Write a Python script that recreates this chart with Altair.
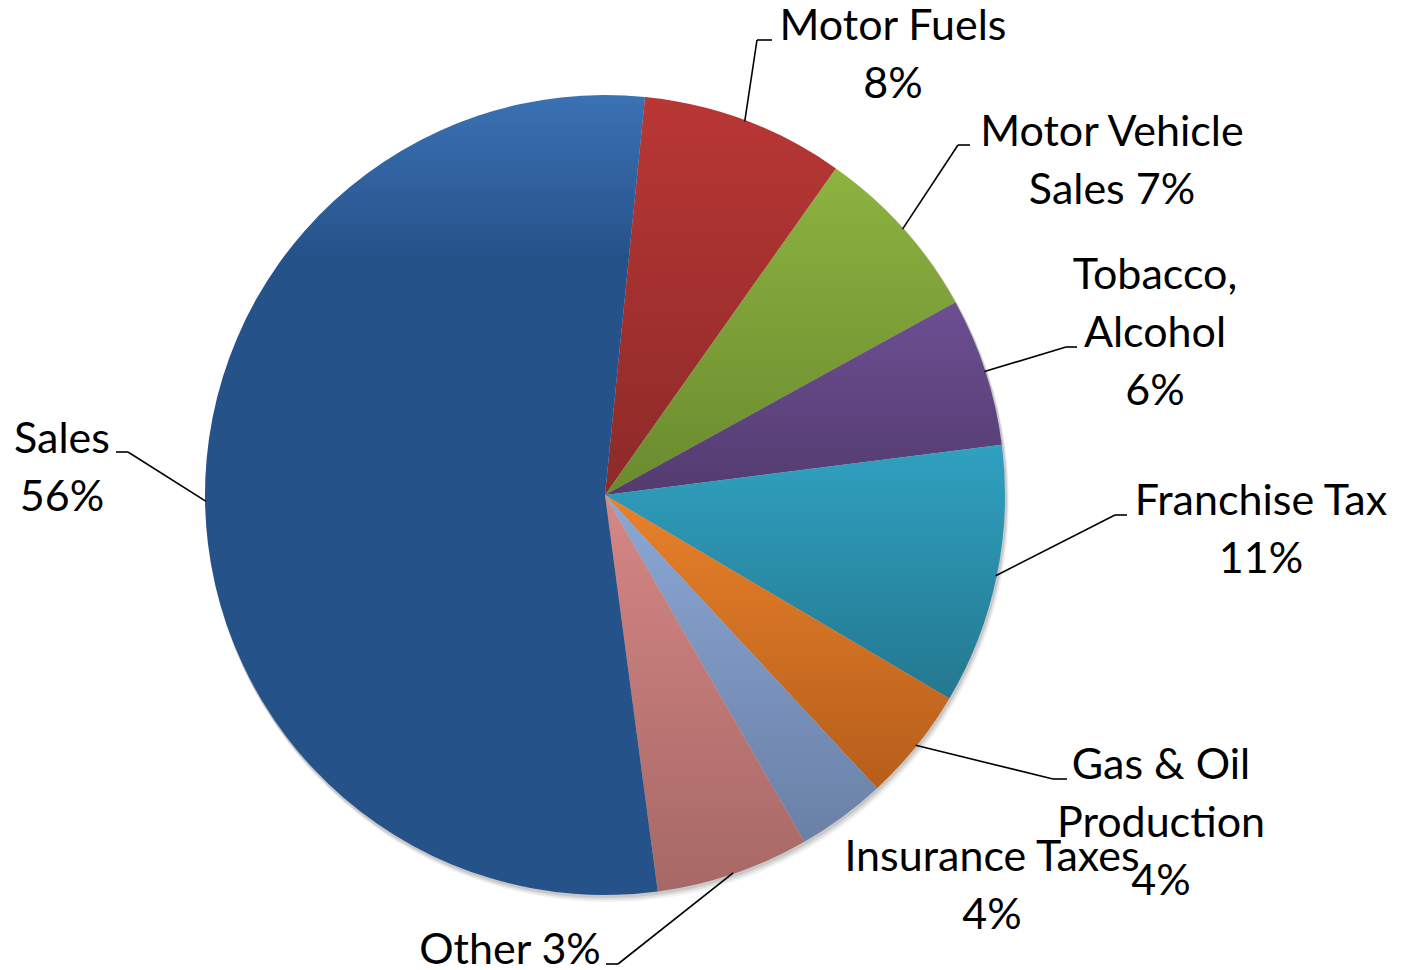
import json
import math
import altair as alt
import pandas as pd

# ---------------- data ----------------
categories = ["Motor Fuels", "Motor Vehicle Sales", "Tobacco, Alcohol", "Franchise Tax",
              "Gas & Oil Production", "Insurance Taxes", "Other", "Sales"]
values = [8.2, 7.2, 6.0, 10.5, 4.6, 3.6, 6.2, 53.7]
label_texts = ["Motor Fuels\n8%", "Motor Vehicle\nSales 7%", "Tobacco,\nAlcohol\n6%",
               "Franchise Tax\n11%", "Gas & Oil\nProduction\n4%", "Insurance Taxes\n4%",
               "Other 3%", "Sales\n56%"]
top_colors = ["#B93735", "#8DB340", "#6D4F92", "#30A1C1", "#E8812A", "#8BA8D6", "#D68785", "#3B72B4"]
bottom_colors = ["#8C2A28", "#6A8A2F", "#533B6F", "#23788F", "#B65E1B", "#6A80A6", "#A66866", "#26528A"]

# ---------------- layout ----------------
W, H = 1393, 962
CX, CY, R = 597, 487, 400
START = math.radians(5.74)
FONT = "Lato"
FS = 43
LH = 58
# label anchor (centre x, first baseline y), chart pixels
label_xy = {
    "Motor Fuels": (885, 32),
    "Motor Vehicle Sales": (1104, 138),
    "Tobacco, Alcohol": (1147, 281),
    "Franchise Tax": (1253, 507),
    "Gas & Oil Production": (1153, 771),
    "Insurance Taxes": (984, 863),
    "Other": (502, 956),
    "Sales": (54, 445),
}
# leader elbow (x, y) and end of short horizontal tick
leader = {
    "Motor Fuels": (749, 32, 764),
    "Motor Vehicle Sales": (950, 137, 962),
    "Tobacco, Alcohol": (1058, 339, 1069),
    "Franchise Tax": (1107, 507, 1119),
    "Gas & Oil Production": (1045, 771, 1059),
    "Other": (610, 956, 598),
    "Sales": (120, 444, 108),
}

idx = list(range(len(categories)))
slices = pd.DataFrame({"name": categories, "value": values, "idx": idx})

labels = pd.DataFrame({
    "text": label_texts,
    "lx": [label_xy[c][0] for c in categories],
    "ly": [label_xy[c][1] for c in categories],
})

lead_df = pd.DataFrame({
    "name": categories, "value": values, "idx": idx,
    "ex": [leader[c][0] if c in leader else None for c in categories],
    "ey": [leader[c][1] if c in leader else None for c in categories],
    "hx": [leader[c][2] if c in leader else None for c in categories],
})


def grad(i):
    if categories[i] == "Sales":
        stops = [{"offset": 0, "color": top_colors[i]},
                 {"offset": 0.2, "color": bottom_colors[i]},
                 {"offset": 1, "color": bottom_colors[i]}]
    else:
        stops = [{"offset": 0, "color": top_colors[i]},
                 {"offset": 1, "color": bottom_colors[i]}]
    return {"gradient": "linear", "x1": 0, "y1": 0, "x2": 0, "y2": 1, "stops": stops}


fill_cond = [{"test": "datum.name === " + json.dumps(c), "value": grad(i)}
             for i, c in enumerate(categories)]

theta_scale = alt.Scale(range=[START, START + 2 * math.pi])

# soft drop shadow below the pie
shadows = []
for off, op in [(6, 0.05), (4, 0.08), (2, 0.10)]:
    shadows.append(
        alt.Chart(slices).mark_arc(radius=R + 1, color="#000000", opacity=op).encode(
            theta=alt.Theta("value:Q", stack=True, scale=theta_scale),
            order=alt.Order("idx:Q"),
            x=alt.value(CX + off / 2), y=alt.value(CY + off),
        )
    )

pie = alt.Chart(slices).mark_arc(radius=R, strokeWidth=0).encode(
    theta=alt.Theta("value:Q", stack=True, scale=theta_scale),
    order=alt.Order("idx:Q"),
    fill={"condition": fill_cond, "value": "#888888"},
    x=alt.value(CX), y=alt.value(CY),
)

lead_base = alt.Chart(lead_df).transform_window(
    cum="sum(value)", sort=[{"field": "idx"}], frame=[None, 0]
).transform_joinaggregate(
    total="sum(value)"
).transform_calculate(
    mid=f"{START} + 2*PI*(datum.cum - datum.value/2)/datum.total"
).transform_calculate(
    sx=f"{CX} + {R - 1}*sin(datum.mid)",
    sy=f"{CY} - {R - 1}*cos(datum.mid)",
).transform_filter("isValid(datum.ex)")

lead1 = lead_base.mark_rule(color="#000000", strokeWidth=1.6).encode(
    x=alt.X("sx:Q", scale=None, axis=None), y=alt.Y("sy:Q", scale=None, axis=None),
    x2="ex:Q", y2="ey:Q",
)
lead2 = lead_base.mark_rule(color="#000000", strokeWidth=1.6).encode(
    x=alt.X("ex:Q", scale=None, axis=None), y=alt.Y("ey:Q", scale=None, axis=None),
    x2="hx:Q",
)

text = alt.Chart(labels).mark_text(
    font=FONT, fontSize=FS, align="center", baseline="alphabetic",
    lineBreak="\n", lineHeight=LH, color="#000000",
).encode(
    x=alt.X("lx:Q", scale=None, axis=None), y=alt.Y("ly:Q", scale=None, axis=None),
    text="text:N",
)

chart = alt.layer(*shadows, pie, lead1, lead2, text).properties(
    width=W, height=H, padding=0, background="white",
    autosize=alt.AutoSizeParams(type="none"),
).configure_view(stroke="transparent", strokeWidth=0)

chart.save("out.html", embed_options={"renderer": "svg", "actions": False})
